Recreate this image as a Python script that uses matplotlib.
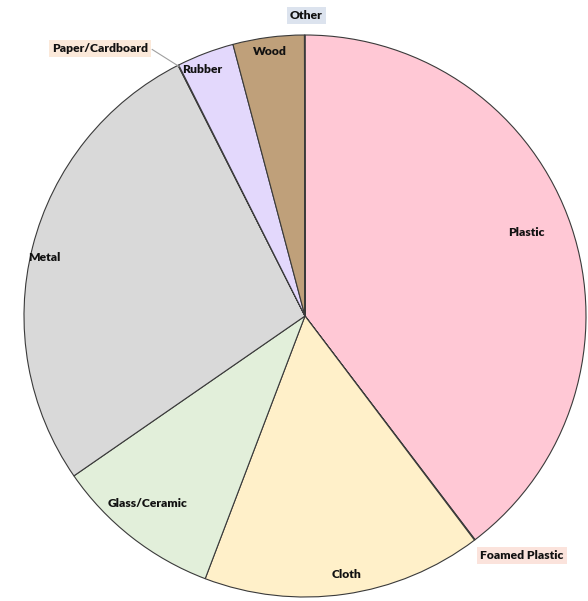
import matplotlib
matplotlib.use("Agg")
import matplotlib.pyplot as plt
import numpy as np

categories = ["Plastic", "Foamed Plastic", "Cloth", "Glass/Ceramic", "Metal",
              "Paper/Cardboard", "Rubber", "Wood", "Other"]
values = [39.7, 0.04, 16.1, 9.6, 27.2, 0.04, 3.3, 4.1, 0.03]
colors = ["#FFC8D5", "#F4C7C0", "#FFF0C9", "#E2EFDA", "#D9D9D9",
          "#F8E0CC", "#E3D8FC", "#BFA07A", "#DCE3EE"]

plt.rcParams['font.family'] = ['Lato', 'DejaVu Sans']

fig = plt.figure(figsize=(5.88, 6.01), dpi=100)
cx, cy, r = 305, 316, 281
W, H = 588, 601
ax = fig.add_axes([(cx - r) / W, (H - cy - r) / H, 2 * r / W, 2 * r / H])
wedges, _ = ax.pie(values, colors=colors, startangle=90, counterclock=False,
                   wedgeprops=dict(edgecolor="#3a3a3a", linewidth=0.8))
ax.set_xlim(-1, 1)
ax.set_ylim(-1, 1)
ax.set_aspect("equal")
ax.axis("off")

# label placement: (radius, angle offset deg, outside bbox color)
inside = {"Plastic": (0.84, 2), "Cloth": (0.93, 1), "Glass/Ceramic": (0.87, -2),
          "Metal": (0.95, 1.5), "Rubber": (0.95, 1.8), "Wood": (0.95, 0)}
outside = {"Other": (1.07, -0.3, "#DCE3EE"),
           "Paper/Cardboard": (1.20, 10.6, "#FBE9DA"),
           "Foamed Plastic": (1.15, 5, "#FBE3DC")}

fs = 8.7
for w, name in zip(wedges, categories):
    mid = (w.theta1 + w.theta2) / 2
    if name in inside:
        rad, off = inside[name]
        a = np.deg2rad(mid + off)
        ax.text(rad * np.cos(a), rad * np.sin(a), name, ha="center", va="center",
                fontsize=fs, fontweight="heavy", color="#111111")
    else:
        rad, off, bg = outside[name]
        a = np.deg2rad(mid + off)
        x, y = rad * np.cos(a), rad * np.sin(a)
        ax.text(x, y, name, ha="center", va="center", fontsize=fs,
                fontweight="heavy", color="#111111", clip_on=False,
                bbox=dict(boxstyle="square,pad=0.25", fc=bg, ec="none"))
        if name == "Paper/Cardboard":
            a0 = np.deg2rad(mid)
            ax.plot([x + 0.185, 0.995 * np.cos(a0)], [y - 0.005, 0.995 * np.sin(a0)],
                    color="#a0a0a0", lw=0.8, clip_on=False)

fig.savefig("out.png", dpi=100)
